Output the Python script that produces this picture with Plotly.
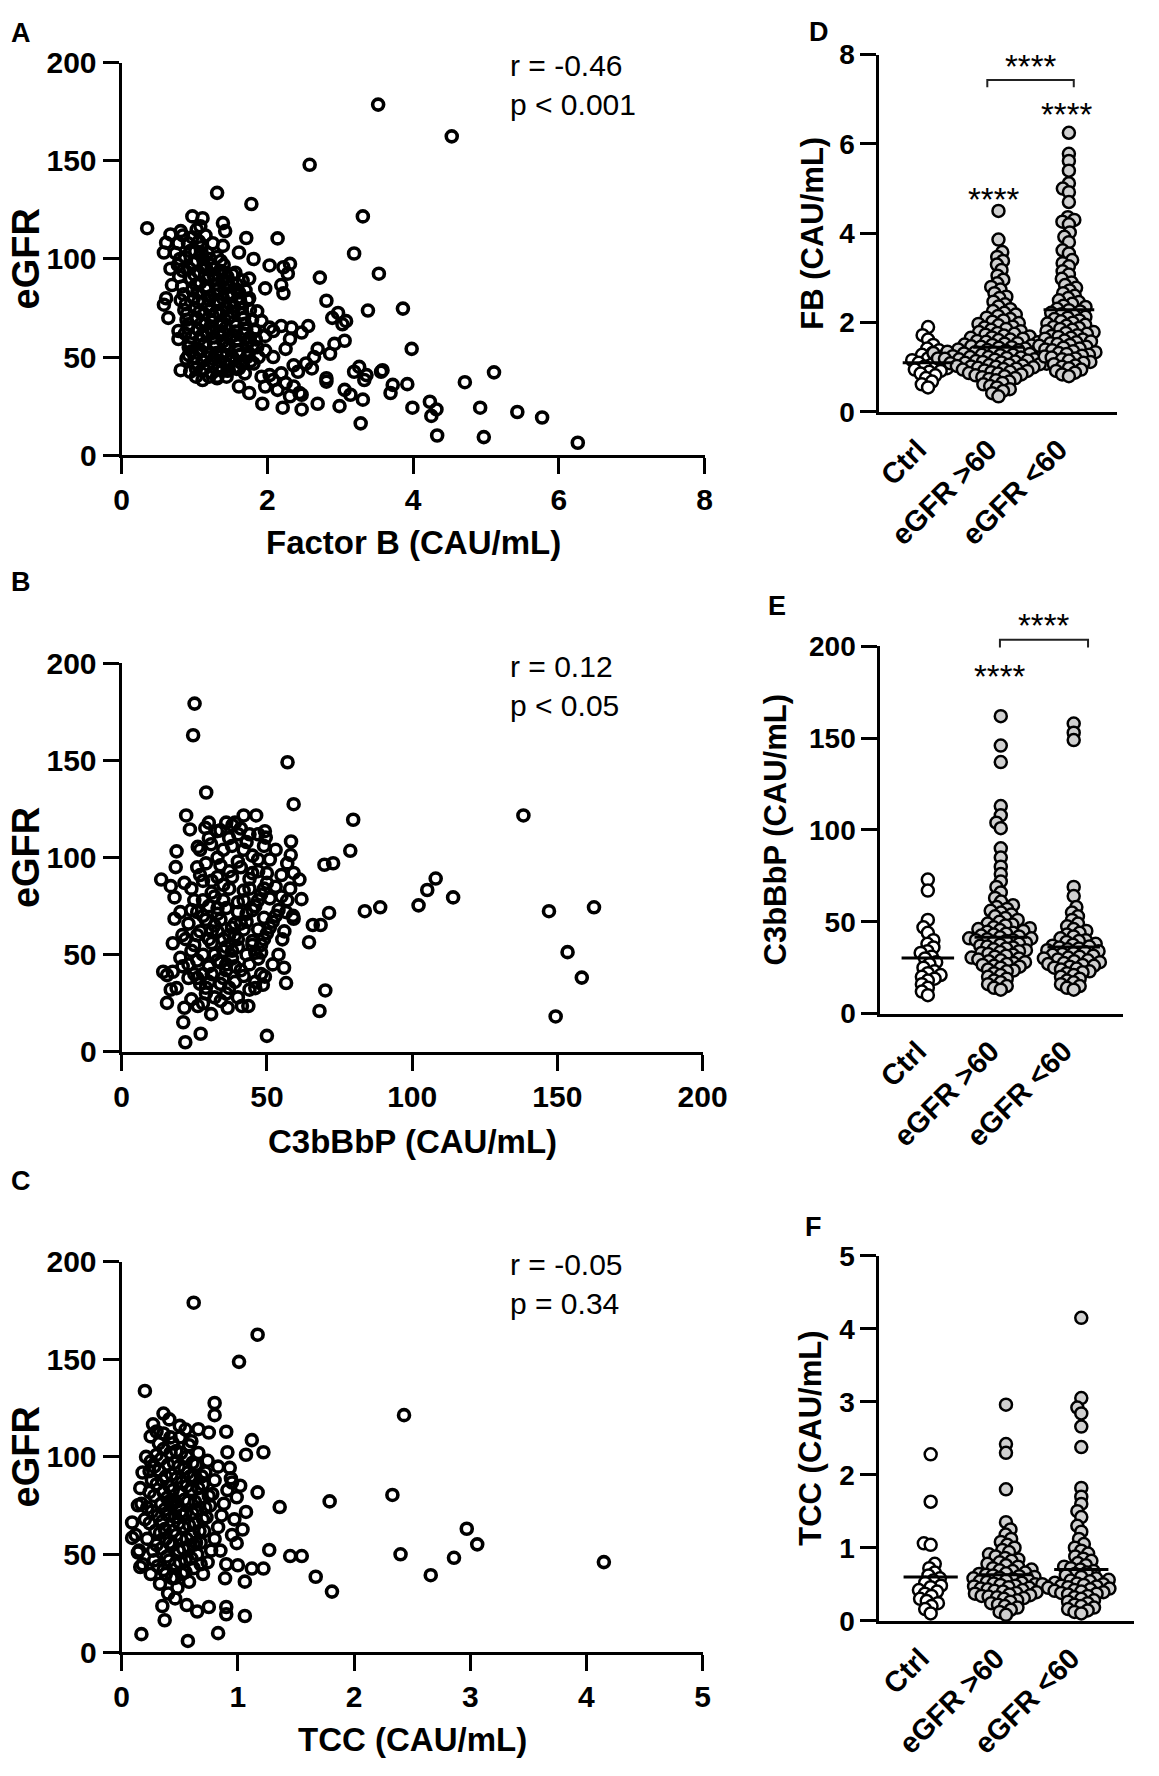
import math
import plotly.graph_objects as go

W, H = 1159, 1776

# ---------------- data ----------------
# Panel A: Factor B (CAU/mL) vs eGFR
panel_a_points = [
    (3.52, 178.7), (4.53, 162.5), (2.58, 148.0), (1.31, 133.7), (1.78, 128.0), (3.31, 121.7),
    (0.35, 115.7), (2.14, 110.5), (1.71, 110.7), (3.19, 102.8), (3.53, 92.5), (2.72, 90.5),
    (2.81, 78.7), (3.38, 73.7), (3.86, 74.7), (3.98, 54.2), (5.11, 42.2), (4.71, 37.2),
    (3.92, 36.2), (3.99, 24.2), (4.23, 27.2), (4.32, 23.3), (4.25, 20.0), (4.33, 10.0),
    (4.92, 24.2), (4.97, 9.2), (5.43, 22.0), (5.77, 19.2), (6.26, 6.3), (3.28, 16.2),
    (3.31, 28.3), (3.19, 42.5), (3.26, 45.0), (3.33, 38.3), (3.58, 43.3), (3.56, 42.5),
    (3.72, 35.8), (3.69, 31.7), (3.36, 40.8), (3.06, 33.3), (3.14, 30.8), (2.99, 25.0),
    (2.69, 26.2), (2.47, 23.3), (2.21, 24.2), (1.93, 26.2), (2.81, 39.2), (2.81, 37.5),
    (2.47, 30.8), (2.31, 30.0), (2.86, 51.7), (3.06, 58.3), (3.03, 66.7), (3.08, 68.3),
    (2.89, 70.0), (2.97, 72.5), (2.92, 56.7), (2.69, 54.2), (2.64, 50.0), (2.53, 46.7),
    (2.61, 44.2), (2.36, 45.8), (2.42, 42.5), (2.56, 65.8), (2.47, 62.5), (2.33, 65.0),
    (2.19, 65.8), (2.08, 63.3), (2.03, 65.0), (1.97, 60.8), (2.31, 59.2), (2.25, 54.2),
    (2.08, 50.0), (1.97, 53.3), (2.03, 40.8), (2.08, 38.3), (2.19, 41.7), (2.25, 36.7),
    (1.92, 40.0), (1.97, 35.0), (2.14, 33.3), (2.36, 35.0), (2.44, 31.7), (1.75, 31.7),
    (1.61, 35.0), (1.72, 50.0), (1.81, 46.7), (1.61, 44.2), (1.69, 41.7), (1.47, 43.3),
    (1.44, 40.0), (1.31, 39.2), (1.11, 38.3), (0.81, 43.3), (0.94, 42.5), (0.89, 49.2),
    (0.92, 55.0), (0.78, 59.2), (0.78, 63.3), (0.92, 66.7), (0.64, 70.0), (0.58, 76.7),
    (0.61, 80.0), (0.69, 86.7), (0.67, 95.0), (0.58, 103.3), (0.61, 108.3), (0.67, 112.5),
    (0.81, 114.2), (0.97, 121.7), (1.11, 120.8), (1.08, 116.7), (1.03, 115.0), (1.39, 118.3),
    (1.42, 114.2), (1.39, 106.7), (1.61, 103.3), (1.81, 100.0), (2.03, 96.7), (2.31, 97.5),
    (2.22, 95.8), (2.28, 92.5), (1.75, 90.0), (1.97, 85.0), (2.19, 86.7), (2.22, 82.5),
    (1.75, 80.0), (1.86, 73.3), (1.92, 68.3), (1.83, 63.3), (1.75, 58.3),
    (0.74, 103), (0.77, 97), (0.79, 91), (0.83, 86), (0.81, 79), (0.86, 74), (0.89, 69),
    (0.87, 62), (0.94, 57), (0.92, 51), (0.99, 47), (0.91, 108), (0.87, 101), (0.93, 95),
    (0.95, 90), (0.97, 84), (0.99, 80), (1.01, 75), (1.03, 70), (1.05, 64), (1.07, 59),
    (1.09, 53), (1.11, 48), (1.13, 44), (0.97, 111), (1.01, 104), (1.03, 99), (1.06, 93),
    (1.08, 88), (1.04, 83), (1.11, 78), (1.13, 72), (1.15, 67), (1.17, 62), (1.14, 57),
    (1.21, 52), (1.19, 46), (1.24, 42), (1.09, 106), (1.12, 100), (1.16, 95), (1.19, 90),
    (1.15, 85), (1.22, 81), (1.18, 76), (1.25, 71), (1.21, 65), (1.27, 60), (1.29, 55),
    (1.26, 49), (1.33, 45), (1.31, 40), (1.18, 103), (1.23, 97), (1.26, 92), (1.29, 87),
    (1.27, 82), (1.33, 77), (1.30, 73), (1.36, 68), (1.34, 63), (1.39, 58), (1.37, 52),
    (1.42, 47), (1.45, 43), (1.31, 101), (1.35, 94), (1.38, 89), (1.41, 85), (1.39, 80),
    (1.44, 75), (1.47, 70), (1.43, 65), (1.49, 60), (1.46, 55), (1.52, 50), (1.55, 45),
    (1.40, 97), (1.45, 91), (1.48, 86), (1.51, 81), (1.54, 76), (1.50, 71), (1.57, 66),
    (1.53, 61), (1.59, 56), (1.62, 51), (1.64, 47), (1.56, 93), (1.58, 87), (1.61, 83),
    (1.63, 78), (1.66, 72), (1.69, 67), (1.67, 62), (1.72, 57), (1.74, 52), (1.77, 48),
    (1.66, 89), (1.70, 84), (1.73, 79), (1.76, 74), (1.79, 69), (1.82, 64), (1.84, 59),
    (1.86, 55), (1.88, 50),
    (0.80, 100), (0.84, 94), (0.85, 82), (0.88, 77), (0.90, 72), (0.91, 65), (0.96, 60),
    (0.96, 53), (1.00, 50), (1.02, 44), (0.94, 104), (0.98, 98), (1.00, 92), (1.02, 87),
    (1.05, 78), (1.07, 73), (1.09, 67), (1.10, 61), (1.12, 56), (1.16, 50), (1.06, 109),
    (1.10, 103), (1.13, 97), (1.14, 91), (1.17, 86), (1.20, 79), (1.22, 74), (1.24, 68),
    (1.25, 63), (1.28, 57), (1.30, 52), (1.35, 48), (1.21, 100), (1.25, 95), (1.28, 90),
    (1.31, 84), (1.32, 79), (1.35, 72), (1.37, 66), (1.40, 62), (1.42, 56), (1.44, 51),
    (1.48, 48), (1.36, 99), (1.42, 93), (1.45, 88), (1.46, 82), (1.49, 77), (1.52, 73),
    (1.55, 68), (1.56, 63), (1.58, 59), (1.60, 53), (1.52, 92), (1.58, 84), (1.62, 80),
    (1.65, 75), (1.68, 70), (1.71, 64), (1.76, 60), (1.80, 56), (1.15, 112), (1.25, 108),
    (0.78, 108), (0.84, 112), (1.02, 40), (1.20, 40), (1.38, 43), (1.58, 44),
]

# Panel B: C3bBbP (CAU/mL) vs eGFR
panel_b_points = [
    (25.1, 179.3), (24.6, 163.0), (57.1, 149.1), (29.1, 133.5), (59.2, 127.5), (138.3, 121.7),
    (79.7, 119.5), (22.2, 121.7), (42.0, 121.7), (46.3, 121.7), (23.5, 114.5), (28.8, 115.3),
    (32.8, 113.6), (38.1, 116.7), (40.1, 112.0), (49.3, 113.6), (49.6, 110.3), (58.3, 108.3),
    (78.7, 103.5), (26.2, 105.5), (30.8, 106.9), (18.9, 103.2), (18.6, 95.1), (69.8, 96.3),
    (72.8, 97.1), (58.2, 101.3), (108.1, 89.2), (105.2, 83.3), (114.1, 79.5), (102.2, 75.4),
    (89.0, 74.4), (83.7, 72.4), (147.1, 72.4), (162.6, 74.4), (71.4, 71.5), (68.5, 65.3),
    (65.8, 65.3), (64.5, 56.4), (153.5, 51.3), (158.4, 38.2), (149.4, 18.2), (70.1, 31.6),
    (68.1, 21.0), (50.0, 8.2), (27.2, 9.3), (21.9, 4.9), (21.2, 15.2), (21.6, 22.7),
    (30.8, 19.4), (34.1, 26.2), (36.5, 22.7), (41.4, 23.6), (43.6, 23.6), (26.2, 23.6),
    (15.6, 25.2), (16.9, 32.0), (18.9, 32.8), (14.3, 41.2), (15.6, 39.5), (17.6, 41.2),
    (55.9, 43.3), (56.6, 35.4), (49.3, 38.7), (48.6, 34.5), (46.0, 32.8), (55.3, 57.9),
    (48.0, 51.1), (59.2, 68.5), (56.6, 71.9), (61.9, 78.6), (61.2, 88.7), (59.2, 92.1),
    (13.6, 88.7), (16.9, 85.3), (18.2, 79.5), (18.2, 68.5), (20.2, 71.9), (17.6, 55.9),
    (20.2, 48.4), (20.9, 60.1), (21.6, 87.0),
    (22, 58), (24, 52), (26, 47), (25, 40), (27, 35), (29, 30), (23, 66), (26, 72), (28, 78),
    (24, 84), (27, 91), (29, 97), (30, 44), (32, 50), (31, 56), (33, 62), (35, 38), (34, 68),
    (36, 74), (32, 80), (35, 86), (37, 93), (33, 100), (38, 106), (36, 42), (38, 48), (40, 54),
    (39, 60), (41, 66), (37, 33), (43, 71), (40, 77), (42, 83), (44, 89), (41, 95), (45, 101),
    (42, 39), (44, 45), (46, 51), (45, 57), (47, 63), (49, 69), (46, 75), (48, 81), (50, 87),
    (47, 93), (51, 99), (43, 108), (28, 40), (30, 36), (31, 62), (29, 68), (34, 46), (36, 54),
    (38, 64), (33, 74), (35, 58), (39, 44), (31, 88), (26, 60), (48, 55), (50, 61), (52, 67),
    (54, 73), (51, 79), (53, 85), (55, 91), (57, 97), (52, 45), (54, 50), (56, 62), (58, 84),
    (21, 44), (23, 38), (25, 78), (27, 104), (30, 110), (34, 114), (39, 118), (44, 112),
    (49, 106), (53, 104), (57, 78), (59, 70), (32, 28), (36, 30), (40, 28), (44, 32),
    (24, 27), (28, 25), (48, 40), (46, 36),
    (23, 45), (25, 55), (27, 62), (28, 70), (30, 75), (31, 82), (33, 90), (34, 96), (35, 104),
    (37, 110), (26, 38), (28, 50), (30, 58), (32, 65), (33, 71), (35, 78), (37, 84), (38, 90),
    (40, 98), (42, 104), (29, 33), (31, 40), (33, 47), (35, 52), (37, 60), (39, 66), (40, 72),
    (42, 78), (44, 84), (45, 92), (47, 99), (34, 35), (36, 45), (38, 52), (40, 58), (42, 63),
    (43, 67), (45, 73), (47, 78), (49, 84), (50, 92), (39, 36), (41, 42), (43, 50), (45, 55),
    (47, 48), (49, 58), (51, 64), (53, 70), (55, 80), (26, 95), (28, 88), (24, 73), (30, 118),
    (36, 118), (41, 115), (47, 112),
]

# Panel C: TCC (CAU/mL) vs eGFR
panel_c_points = [
    (0.62, 179.0), (1.17, 162.6), (1.01, 148.7), (0.20, 133.8), (2.43, 121.4), (0.80, 127.6),
    (0.80, 121.4), (0.36, 122.2), (0.41, 119.2), (0.27, 116.7), (0.50, 115.9), (0.66, 114.2),
    (0.75, 112.5), (0.90, 112.9), (0.25, 110.5), (1.12, 108.6), (1.22, 102.4), (1.07, 101.1),
    (0.91, 102.4), (0.25, 97.7), (0.24, 92.7), (0.93, 94.4), (0.95, 86.9), (1.02, 85.2),
    (1.17, 81.8), (0.99, 79.3), (2.33, 80.5), (1.79, 77.2), (1.36, 74.3), (1.07, 71.8),
    (0.17, 76.0), (0.14, 75.2), (0.09, 66.4), (0.09, 58.5), (0.14, 51.0), (0.16, 43.6),
    (1.04, 62.8), (0.99, 55.8), (1.27, 52.3), (1.45, 49.2), (1.55, 49.2), (2.40, 50.1),
    (2.97, 63.2), (3.06, 55.2), (2.86, 48.3), (2.66, 39.4), (4.15, 46.1), (1.67, 38.6),
    (1.81, 31.0), (1.22, 42.8), (1.12, 42.8), (1.06, 36.1), (0.89, 37.8), (1.00, 44.5),
    (0.35, 23.6), (0.37, 16.3), (0.17, 9.2), (0.57, 5.7), (0.83, 9.7), (1.06, 18.5),
    (0.90, 19.4), (0.90, 23.1), (0.75, 23.1), (0.65, 20.8), (0.56, 24.1), (0.46, 27.5),
    (0.12, 60), (0.15, 52), (0.18, 45), (0.20, 68), (0.22, 74), (0.24, 82), (0.26, 88),
    (0.28, 95), (0.30, 101), (0.32, 107), (0.25, 40), (0.28, 47), (0.30, 55), (0.33, 61),
    (0.35, 67), (0.37, 73), (0.39, 79), (0.41, 85), (0.43, 91), (0.45, 97), (0.47, 103),
    (0.42, 110), (0.33, 35), (0.36, 42), (0.39, 49), (0.41, 56), (0.44, 62), (0.46, 69),
    (0.48, 75), (0.50, 81), (0.52, 87), (0.54, 94), (0.56, 100), (0.58, 106), (0.40, 30),
    (0.43, 38), (0.46, 45), (0.49, 52), (0.51, 58), (0.53, 64), (0.55, 71), (0.57, 77),
    (0.60, 83), (0.62, 90), (0.64, 96), (0.66, 102), (0.48, 33), (0.52, 40), (0.55, 47),
    (0.58, 54), (0.60, 60), (0.63, 66), (0.65, 73), (0.68, 79), (0.70, 86), (0.72, 92),
    (0.74, 98), (0.58, 36), (0.62, 43), (0.65, 50), (0.68, 56), (0.71, 62), (0.73, 69),
    (0.76, 75), (0.78, 81), (0.80, 88), (0.83, 95), (0.70, 40), (0.74, 46), (0.77, 52),
    (0.80, 58), (0.83, 64), (0.86, 70), (0.88, 76), (0.91, 83), (0.94, 89), (0.18, 92),
    (0.21, 100), (0.16, 84), (0.35, 88), (0.52, 70), (0.62, 55), (0.38, 58), (0.45, 78),
    (0.57, 92), (0.68, 45), (0.85, 52), (0.90, 45), (0.95, 60), (0.97, 68),
    (0.22, 58), (0.24, 66), (0.26, 72), (0.28, 80), (0.30, 86), (0.32, 93), (0.34, 99),
    (0.36, 104), (0.27, 52), (0.29, 62), (0.31, 70), (0.34, 76), (0.36, 82), (0.38, 90),
    (0.40, 96), (0.42, 102), (0.44, 107), (0.31, 44), (0.34, 53), (0.37, 63), (0.40, 70),
    (0.42, 76), (0.44, 83), (0.47, 89), (0.49, 95), (0.51, 102), (0.38, 40), (0.41, 47),
    (0.44, 55), (0.47, 60), (0.49, 66), (0.51, 72), (0.54, 78), (0.56, 85), (0.59, 90),
    (0.61, 97), (0.46, 38), (0.50, 46), (0.53, 53), (0.56, 58), (0.58, 65), (0.61, 71),
    (0.63, 77), (0.66, 84), (0.69, 90), (0.55, 41), (0.60, 48), (0.64, 56), (0.67, 62),
    (0.70, 68), (0.72, 74), (0.75, 80), (0.50, 110), (0.55, 114), (0.60, 108), (0.36, 112),
    (0.30, 113),
]

correlation_text = {
    "A": ("r = -0.46", "p < 0.001"),
    "B": ("r = 0.12", "p < 0.05"),
    "C": ("r = -0.05", "p = 0.34"),
}

groups = ["Ctrl", "eGFR >60", "eGFR <60"]

fb_ctrl = [1.90, 1.72, 1.62, 1.50, 1.42, 1.38, 1.32, 1.28, 1.24, 1.20, 1.16, 1.12, 1.10,
           1.06, 1.02, 0.98, 0.95, 0.92, 0.90, 0.86, 0.82, 0.76, 0.68, 0.62, 0.55]
fb_gt60 = [4.50, 3.86, 3.58, 3.47, 3.38, 3.30, 3.18, 3.05, 2.96, 2.88, 2.80, 2.74, 2.66, 2.58,
           2.55, 2.47, 2.41, 2.36, 2.30, 2.26, 2.22, 2.18, 2.15, 2.11, 2.08, 2.05, 2.02, 1.99,
           1.97, 1.94, 1.91, 1.89, 1.86, 1.84, 1.81, 1.79, 1.77, 1.75, 1.73, 1.71, 1.69, 1.67,
           1.66, 1.64, 1.62, 1.61, 1.59, 1.57, 1.56, 1.54, 1.53, 1.51, 1.50, 1.49, 1.47, 1.46,
           1.45, 1.44, 1.42, 1.41, 1.40, 1.39, 1.38, 1.37, 1.36, 1.35, 1.34, 1.33, 1.33, 1.32,
           1.31, 1.30, 1.29, 1.28, 1.28, 1.27, 1.26, 1.25, 1.24, 1.23, 1.23, 1.22, 1.21, 1.20,
           1.19, 1.18, 1.18, 1.17, 1.16, 1.15, 1.14, 1.13, 1.12, 1.11, 1.10, 1.09, 1.08, 1.07,
           1.06, 1.05, 1.04, 1.03, 1.02, 1.01, 1.00, 0.99, 0.97, 0.96, 0.95, 0.93, 0.92, 0.90,
           0.89, 0.87, 0.86, 0.84, 0.82, 0.80, 0.78, 0.76, 0.74, 0.71, 0.68, 0.65, 0.62, 0.58,
           0.55, 0.51, 0.47, 0.42, 0.35]
fb_lt60 = [6.25, 5.78, 5.62, 5.40, 5.12, 5.00, 4.92, 4.70, 4.36, 4.30, 4.26, 4.20, 4.02, 3.92,
           3.80, 3.62, 3.55, 3.40, 3.33, 3.26, 3.15, 3.08, 2.98, 2.90, 2.84, 2.78, 2.72, 2.66,
           2.60, 2.55, 2.50, 2.46, 2.42, 2.38, 2.35, 2.31, 2.28, 2.25, 2.22, 2.19, 2.16, 2.13,
           2.11, 2.08, 2.05, 2.03, 2.00, 1.98, 1.95, 1.93, 1.90, 1.88, 1.86, 1.84, 1.81, 1.79,
           1.77, 1.75, 1.72, 1.70, 1.68, 1.66, 1.64, 1.62, 1.60, 1.58, 1.56, 1.54, 1.52, 1.50,
           1.48, 1.46, 1.44, 1.42, 1.40, 1.38, 1.36, 1.34, 1.32, 1.30, 1.28, 1.26, 1.24, 1.22,
           1.20, 1.18, 1.15, 1.12, 1.10, 1.07, 1.04, 1.01, 0.98, 0.95, 0.92, 0.88, 0.84, 0.80]
fb_lines = [1.10, 1.45, 2.29]

c3_ctrl = [73, 67, 51, 47, 44, 40, 38, 36, 34, 33, 31, 30, 28, 27, 25, 23, 22, 21, 20, 19,
           18, 16, 14, 12, 10]
c3_gt60 = [162, 146, 137, 113, 108, 104, 101, 90, 85, 80, 76, 72, 69, 66, 63, 61, 59, 58, 57,
           56, 55, 54, 53, 52, 51, 50, 49, 48.5, 48, 47, 46.5, 46, 45.5, 45, 44.5, 44, 43.5, 43,
           42.5, 42, 41.5, 41, 41, 40.5, 40, 40, 39.5, 39, 38.5, 38, 37.5, 37, 36.5, 36, 35.5,
           35, 34.5, 34, 33.5, 33, 32.5, 32, 31.5, 31, 30.5, 30, 29.5, 29, 28.5, 28, 27.5, 27,
           26.5, 26, 25.5, 25, 24, 23.5, 23, 22, 21, 20, 19, 18, 17, 16, 15, 14, 13]
c3_lt60 = [158, 153, 149, 69, 64, 58, 55, 53, 51, 49, 47.5, 46, 45, 44, 43, 42, 41, 40, 39.5,
           39, 38, 37.5, 37, 36.5, 36, 35.5, 35, 34.5, 34, 33.5, 33, 32.5, 32, 31.5, 31, 30.5,
           30, 29.5, 29, 28.5, 28, 27.5, 27, 26.5, 26, 25.5, 25, 24.5, 24, 23, 22.5, 22, 21, 20,
           19, 18, 17, 16, 15, 14, 13]
c3_lines = [30.3, 41.5, 36.2]

tcc_ctrl = [2.28, 1.63, 1.06, 1.04, 0.78, 0.72, 0.66, 0.62, 0.58, 0.55, 0.52, 0.48, 0.46, 0.42,
            0.40, 0.37, 0.34, 0.30, 0.27, 0.24, 0.20, 0.16, 0.10]
tcc_gt60 = [2.96, 2.42, 2.30, 1.80, 1.35, 1.25, 1.18, 1.12, 1.08, 1.04, 1.00, 0.97, 0.94, 0.91,
            0.88, 0.86, 0.84, 0.82, 0.80, 0.78, 0.76, 0.74, 0.72, 0.70, 0.69, 0.68, 0.66, 0.65,
            0.64, 0.63, 0.62, 0.61, 0.60, 0.59, 0.58, 0.57, 0.56, 0.55, 0.54, 0.53, 0.52, 0.51,
            0.50, 0.50, 0.49, 0.48, 0.47, 0.46, 0.45, 0.44, 0.43, 0.42, 0.41, 0.40, 0.39, 0.38,
            0.37, 0.36, 0.35, 0.34, 0.33, 0.32, 0.31, 0.30, 0.28, 0.26, 0.24, 0.22, 0.20, 0.18,
            0.15, 0.12, 0.08]
tcc_lt60 = [4.15, 3.05, 2.92, 2.84, 2.66, 2.38, 1.82, 1.70, 1.60, 1.50, 1.42, 1.30, 1.22, 1.12,
            1.05, 1.00, 0.96, 0.92, 0.88, 0.85, 0.82, 0.79, 0.76, 0.74, 0.72, 0.70, 0.68, 0.66,
            0.64, 0.62, 0.60, 0.58, 0.56, 0.55, 0.54, 0.52, 0.51, 0.50, 0.49, 0.48, 0.47, 0.46,
            0.45, 0.44, 0.43, 0.42, 0.41, 0.40, 0.39, 0.38, 0.37, 0.36, 0.34, 0.32, 0.30, 0.28,
            0.26, 0.24, 0.22, 0.20, 0.18, 0.16, 0.14, 0.12, 0.10]
tcc_lines = [0.60, 0.63, 0.70]

# ---------------- layout helpers ----------------
def px_x(p):
    return p / W

def px_y(p):
    return 1 - p / H

FAM = "Liberation Sans, Arial, sans-serif"
TICK_FONT = dict(family=FAM, size=30, color="black", weight="bold")
TICK_FONT_R = dict(family=FAM, size=28, color="black", weight="bold")
CAT_FONT = dict(family=FAM, size=29, color="black", weight="bold")
TITLE_FONT = dict(family=FAM, size=33, color="black", weight="bold")
TITLE_FONT_R = dict(family=FAM, size=31, color="black", weight="bold")
EGFR_FONT = dict(family=FAM, size=38, color="black", weight="bold")
LABEL_FONT = dict(family=FAM, size=27, color="black", weight="bold")
STAT_FONT = dict(family=FAM, size=30, color="black")
STAR_FONT = dict(family=FAM, size=33, color="black")

def axis_common(font):
    return dict(showline=True, linecolor="black", linewidth=3.2, ticks="outside", ticklen=16,
                tickwidth=3.2, tickcolor="black", showgrid=False, zeroline=False,
                tickfont=font, fixedrange=True)

# pixel geometry of each panel: (x0, x1, ytop, ybottom)
geom = {
    "A": (117, 717, 46.7, 446.7),
    "B": (117, 715, 659, 1055),
    "C": (117, 715, 1269, 1667),
    "D": (897, 1142, 38.3, 402.7),
    "E": (898, 1148, 641.7, 1016),
    "F": (897, 1159, 1263, 1635),
}

fig = go.Figure()
layout = dict(width=W, height=H, margin=dict(l=0, r=0, t=0, b=0), showlegend=False,
              paper_bgcolor="white", plot_bgcolor="white")

scatter_cfg = [
    ("A", panel_a_points, [0, 8], 2, "Factor B (CAU/mL)", 536),
    ("B", panel_b_points, [0, 200], 50, "C3bBbP (CAU/mL)", 1146),
    ("C", panel_c_points, [0, 5], 1, "TCC (CAU/mL)", 1756),
]
annotations = []
shapes = []

for idx, (key, pts, xr, dt, xtitle, title_y) in enumerate(scatter_cfg):
    n = idx + 1
    sfx = "" if n == 1 else str(n)
    x0, x1, yt, yb = geom[key]
    xs = [p[0] for p in pts]
    ys = [p[1] for p in pts]
    fig.add_trace(go.Scatter(
        x=xs, y=ys, mode="markers", xaxis=f"x{sfx}", yaxis=f"y{sfx}",
        marker=dict(symbol="circle-open", size=11, color="black", line=dict(width=3.6, color="black")),
        cliponaxis=False, hoverinfo="skip"))
    layout[f"xaxis{sfx}"] = dict(axis_common(TICK_FONT), domain=[px_x(x0), px_x(x1)], range=xr, dtick=dt,
                                 tick0=0, anchor=f"y{sfx}")
    layout[f"yaxis{sfx}"] = dict(axis_common(TICK_FONT), domain=[px_y(yb), px_y(yt)], range=[0, 200],
                                 dtick=50, tick0=0, anchor=f"x{sfx}")
    annotations.append(dict(text=xtitle, x=px_x((x0 + x1) / 2), y=px_y(title_y), xref="paper", yref="paper",
                            showarrow=False, font=TITLE_FONT, xanchor="center", yanchor="middle"))
    annotations.append(dict(text="eGFR", x=px_x(18), y=px_y((yt + yb) / 2), xref="paper", yref="paper",
                            showarrow=False, font=EGFR_FONT, textangle=-90, xanchor="center", yanchor="middle"))
    r_txt, p_txt = correlation_text[key]
    annotations.append(dict(text=f"{r_txt}<br>{p_txt}", x=px_x(515), y=px_y(yt - 16), xref="paper",
                            yref="paper", showarrow=False, font=STAT_FONT, xanchor="left", yanchor="top",
                            align="left"))


def beeswarm(values, ppu, ppc, d):
    order = sorted(range(len(values)), key=lambda i: values[i])
    placed = []
    offs = [0.0] * len(values)
    for i in order:
        y = values[i] * ppu
        near = [(px, py) for (px, py) in placed if abs(y - py) < d]
        cands = [0.0]
        for (px, py) in near:
            dx = math.sqrt(d * d - (y - py) ** 2)
            cands += [px + dx, px - dx]
        cands.sort(key=lambda c: (abs(c), c))
        chosen = cands[-1]
        for c in cands:
            if all((c - px) ** 2 + (y - py) ** 2 >= d * d - 1e-6 for (px, py) in near):
                chosen = c
                break
        placed.append((chosen, y))
        offs[i] = chosen / ppc
    return offs


swarm_cfg = [
    ("D", [fb_ctrl, fb_gt60, fb_lt60], fb_lines, [0, 8], 2, "FB (CAU/mL)", 828, [-0.69, 2.69]),
    ("E", [c3_ctrl, c3_gt60, c3_lt60], c3_lines, [0, 200], 50, "C3bBbP (CAU/mL)", 790, [-0.65, 2.68]),
    ("F", [tcc_ctrl, tcc_gt60, tcc_lt60], tcc_lines, [0, 5], 1, "TCC (CAU/mL)", 826, [-0.68, 2.70]),
]

for j, (key, series, lines, yr, dt, ytitle, title_x, xr) in enumerate(swarm_cfg):
    n = j + 4
    x0, x1, yt, yb = geom[key]
    ppu = (yb - yt) / (yr[1] - yr[0])
    ppc = (x1 - x0) / (xr[1] - xr[0])
    for gi, vals in enumerate(series):
        offs = beeswarm(vals, ppu, ppc, 7.2)
        fig.add_trace(go.Scatter(
            x=[gi + o for o in offs], y=vals, mode="markers", xaxis=f"x{n}", yaxis=f"y{n}",
            marker=dict(symbol="circle", size=12, color="white" if gi == 0 else "#d0d0d0",
                        line=dict(width=2.5, color="black")),
            cliponaxis=False, hoverinfo="skip"))
    for gi, lv in enumerate(lines):
        fig.add_trace(go.Scatter(x=[gi - 0.36, gi + 0.36], y=[lv, lv], mode="lines",
                                 xaxis=f"x{n}", yaxis=f"y{n}", line=dict(color="black", width=3),
                                 hoverinfo="skip"))
    layout[f"xaxis{n}"] = dict(axis_common(CAT_FONT), domain=[px_x(x0), px_x(x1)], range=xr,
                               tickvals=[0, 1, 2], ticktext=groups, ticks="", ticklen=0,
                               tickangle=-45, anchor=f"y{n}", ticklabelstandoff=6, ticklabelshift=-10)
    layout[f"yaxis{n}"] = dict(axis_common(TICK_FONT_R), domain=[px_y(yb), px_y(yt)], range=yr, dtick=dt,
                               tick0=0, anchor=f"x{n}")
    annotations.append(dict(text=ytitle, x=px_x(title_x), y=px_y((yt + yb) / 2), xref="paper", yref="paper",
                            showarrow=False, font=TITLE_FONT_R, textangle=-90, xanchor="center",
                            yanchor="middle"))

# panel letters
for lab, lx, ly in [("A", 1, 16.5), ("B", 1, 576), ("C", 1, 1187), ("D", 822, 15), ("E", 780, 600), ("F", 818, 1234)]:
    annotations.append(dict(text=lab, x=px_x(lx), y=px_y(ly), xref="paper", yref="paper", showarrow=False,
                            font=LABEL_FONT, xanchor="left", yanchor="middle"))

# significance marks (pixel positions of star centres)
for sx, sy in [(1052.7, 41.7), (1015, 176.7), (1090, 90), (1066.7, 611.7), (1021, 663.3)]:
    annotations.append(dict(text="****", x=px_x(sx), y=px_y(sy), xref="paper", yref="paper", showarrow=False,
                            font=STAR_FONT, xanchor="center", yanchor="middle", yshift=-9))

for bx0, bx1, by, byend in [(1008, 1097, 64.3, 71.7), (1021, 1111.7, 635, 642.7)]:
    shapes.append(dict(type="path", xref="paper", yref="paper",
                       path=f"M {px_x(bx0)} {px_y(byend)} L {px_x(bx0)} {px_y(by)} L {px_x(bx1)} {px_y(by)} L {px_x(bx1)} {px_y(byend)}",
                       line=dict(color="#222222", width=2)))

layout["annotations"] = annotations
layout["shapes"] = shapes
fig.update_layout(**layout)
fig.write_html("out.html", config={"displayModeBar": False},
               post_script="document.body.style.margin='0px';")
